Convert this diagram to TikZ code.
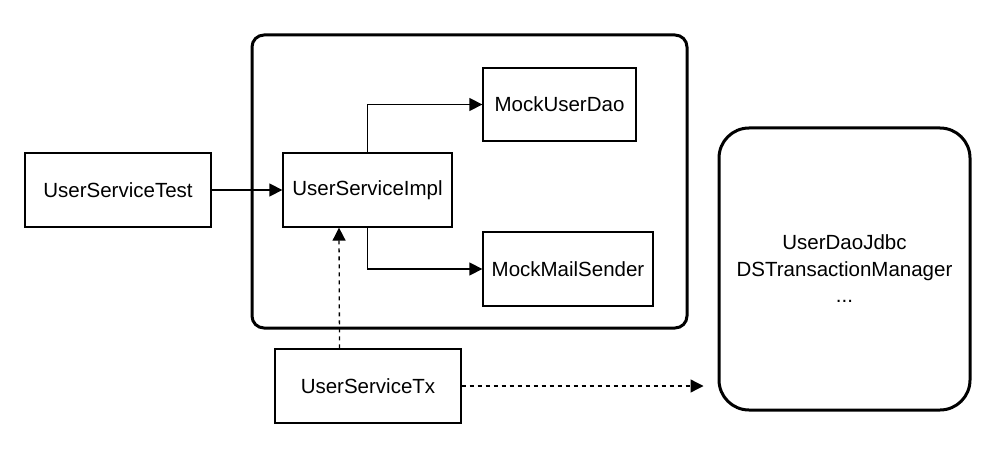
\documentclass[tikz,border=0pt]{standalone}
\usepackage{fontspec}
\setmainfont{Liberation Sans}
\usepackage{tikz}
\usetikzlibrary{arrows.meta,calc}

\begin{document}
\begin{tikzpicture}[x=1pt,y=-1pt,>={Triangle[length=13pt,width=13pt]},
    label font/.style={font=\fontsize{20.5}{26.5}\selectfont},
    box/.style={draw,line width=1.3pt,minimum height=74pt,inner sep=0pt,label font},
    group/.style={draw,line width=3pt,rounded corners=12pt,inner sep=0pt},
    call/.style={->,line width=1.3pt},
    dep/.style={->,line width=1.3pt,dash pattern=on 4pt off 4pt}]
        \useasboundingbox (0,0) rectangle (1008,449);

        \node[group, minimum width=435pt, minimum height=293pt] (mock) at (469.5,181.5) {};
        \node[group, rounded corners=30pt, minimum width=251pt, minimum height=282pt,
              align=center, label font] (real) at (844.5,269) {UserDaoJdbc\\DSTransactionManager\\...};

        \node[box, minimum width=186pt] (test) at (118,190) {UserServiceTest};
        \node[box, minimum width=169pt] (impl) at (367.5,190) {UserServiceImpl};
        \node[box, minimum width=153pt, minimum height=73pt] (dao) at (559.5,104.5) {MockUserDao};
        \node[box, minimum width=170pt] (mail) at (568,269) {MockMailSender};
        \node[box, minimum width=186pt] (tx) at (368,386) {UserServiceTx};

        \draw[call] (test) -- (impl);
        \draw[call] (impl.north) |- (dao.west);
        \draw[call] (impl.south) |- (mail.west);

        \draw[dep] ([xshift=-28.5pt]tx.north) -- ([xshift=-28.5pt]impl.south);
        \draw[dep, shorten >=14pt] (tx.east) -- (tx.east -| real.west);
      \end{tikzpicture}
\end{document}
